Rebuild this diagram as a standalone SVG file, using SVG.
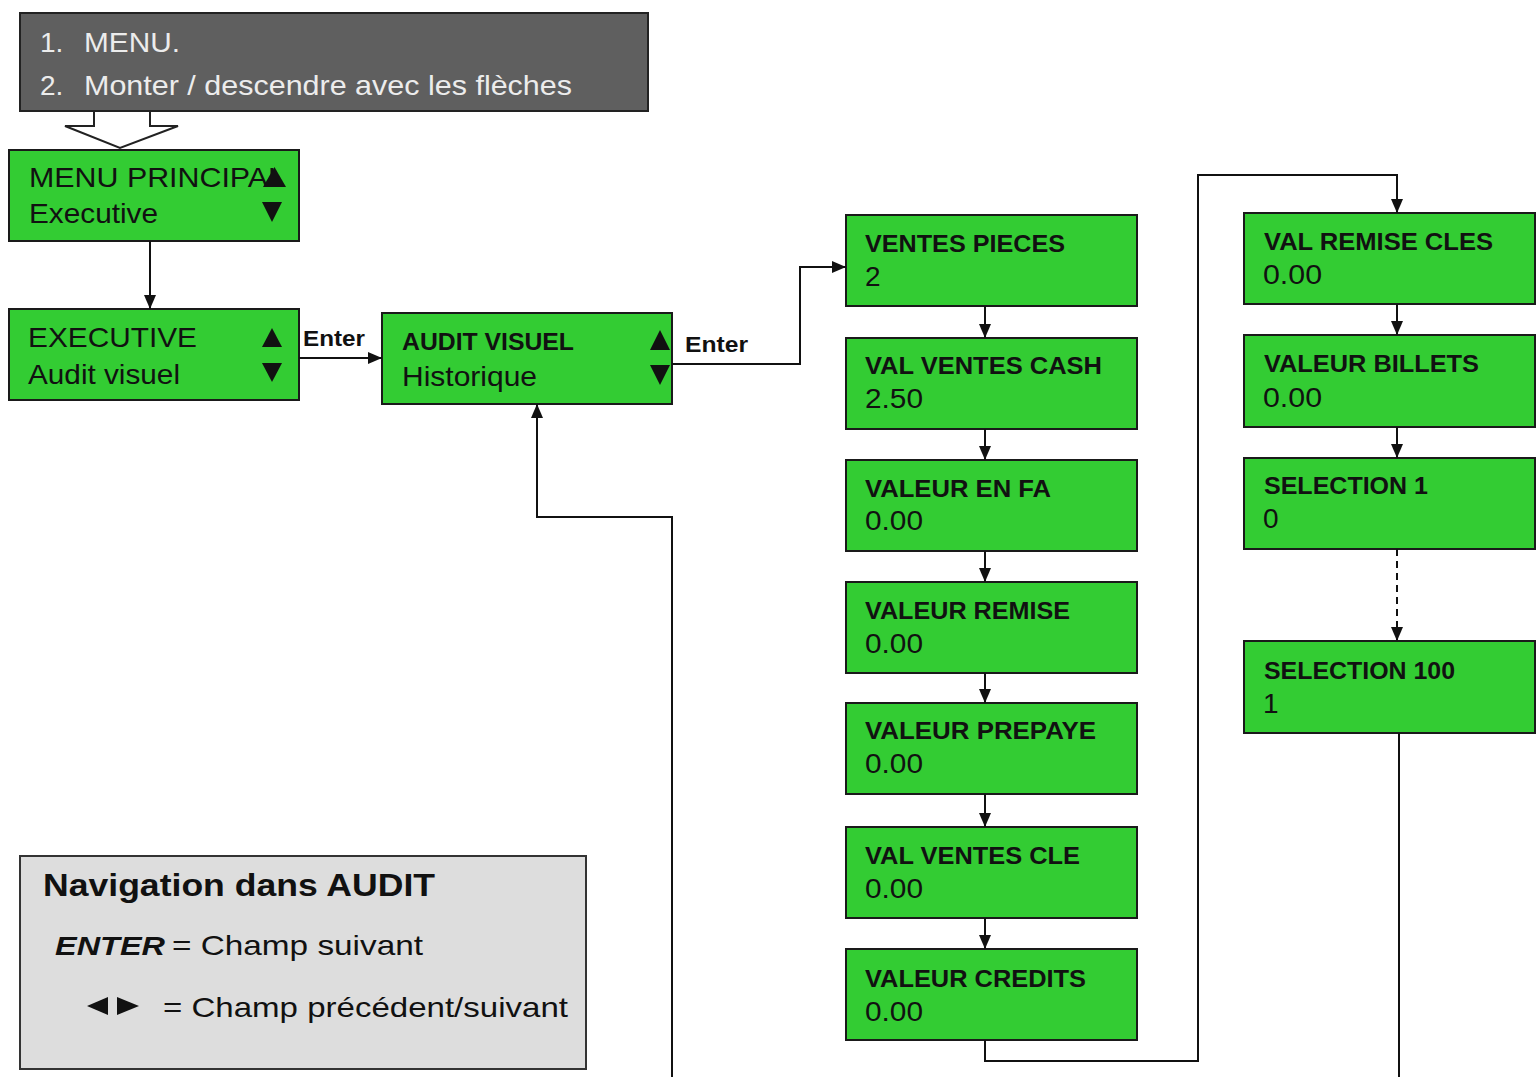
<svg xmlns="http://www.w3.org/2000/svg" width="1539" height="1077" viewBox="0 0 1539 1077">
<style>
.box{fill:#33cc33;stroke:#1a1a1a;stroke-width:2}
.t{font-family:"Liberation Sans",Arial,sans-serif;fill:#111}
.reg{font-size:28px}
.bold{font-size:24px;font-weight:bold}
.lt{font-family:"Liberation Sans",Arial,sans-serif;font-size:28px;fill:#ececec}
.con{fill:none;stroke:#111;stroke-width:2}
.tri{fill:#111}
</style>
<defs>
<marker id="ah" markerUnits="userSpaceOnUse" markerWidth="16" markerHeight="14" refX="14" refY="6" orient="auto" overflow="visible">
<path d="M0,0 L14,6 L0,12 z" fill="#111" stroke="none"/>
</marker>
</defs>
<rect width="1539" height="1077" fill="#ffffff"/>

<g id="header">
<rect x="20" y="13" width="628" height="98" fill="#5f5f5f" stroke="#222" stroke-width="2"/>
<text class="lt" x="40" y="52">1.</text>
<text class="lt" x="84" y="52" textLength="96" lengthAdjust="spacingAndGlyphs">MENU.</text>
<text class="lt" x="40" y="95">2.</text>
<text class="lt" x="84" y="95" textLength="488" lengthAdjust="spacingAndGlyphs">Monter / descendre avec les flèches</text>
<polygon points="94,111 94,126 65,126 120,148 178,126 150,126 150,111" fill="#ffffff" stroke="#222" stroke-width="2"/>
</g>

<g id="menu-principal">
<rect class="box" x="9" y="150" width="290" height="91"/>
<text class="t reg" x="29" y="187" textLength="256" lengthAdjust="spacingAndGlyphs">MENU PRINCIPAL</text>
<text class="t reg" x="29" y="223" textLength="129" lengthAdjust="spacingAndGlyphs">Executive</text>
<polygon class="tri" points="263,187 286,187 274.5,167"/>
<polygon class="tri" points="262,202 282,202 272,222"/>
</g>

<g id="executive">
<rect class="box" x="9" y="309" width="290" height="91"/>
<text class="t reg" x="28" y="347" textLength="169" lengthAdjust="spacingAndGlyphs">EXECUTIVE</text>
<text class="t reg" x="28" y="384" textLength="152" lengthAdjust="spacingAndGlyphs">Audit visuel</text>
<polygon class="tri" points="262,347 282,347 272,328"/>
<polygon class="tri" points="262,363 282,363 272,382"/>
</g>

<g id="audit-visuel">
<rect class="box" x="382" y="313" width="290" height="91"/>
<text class="t bold" x="402" y="350" textLength="172" lengthAdjust="spacingAndGlyphs">AUDIT VISUEL</text>
<text class="t reg" x="402" y="386" textLength="135" lengthAdjust="spacingAndGlyphs">Historique</text>
<polygon class="tri" points="650,350 670,350 660,330"/>
<polygon class="tri" points="650,365 670,365 660,385"/>
</g>

<g id="ventes-pieces">
<rect class="box" x="846" y="215" width="291" height="91"/>
<text class="t bold" x="865" y="252" textLength="200" lengthAdjust="spacingAndGlyphs">VENTES PIECES</text>
<text class="t reg" x="865" y="286">2</text>
</g>
<g id="val-ventes-cash">
<rect class="box" x="846" y="338" width="291" height="91"/>
<text class="t bold" x="865" y="374" textLength="237" lengthAdjust="spacingAndGlyphs">VAL VENTES CASH</text>
<text class="t reg" x="865" y="408" textLength="58" lengthAdjust="spacingAndGlyphs">2.50</text>
</g>
<g id="valeur-en-fa">
<rect class="box" x="846" y="460" width="291" height="91"/>
<text class="t bold" x="865" y="497" textLength="186" lengthAdjust="spacingAndGlyphs">VALEUR EN FA</text>
<text class="t reg" x="865" y="530" textLength="58" lengthAdjust="spacingAndGlyphs">0.00</text>
</g>
<g id="valeur-remise">
<rect class="box" x="846" y="582" width="291" height="91"/>
<text class="t bold" x="865" y="619" textLength="205" lengthAdjust="spacingAndGlyphs">VALEUR REMISE</text>
<text class="t reg" x="865" y="653" textLength="58" lengthAdjust="spacingAndGlyphs">0.00</text>
</g>
<g id="valeur-prepaye">
<rect class="box" x="846" y="703" width="291" height="91"/>
<text class="t bold" x="865" y="739" textLength="231" lengthAdjust="spacingAndGlyphs">VALEUR PREPAYE</text>
<text class="t reg" x="865" y="773" textLength="58" lengthAdjust="spacingAndGlyphs">0.00</text>
</g>
<g id="val-ventes-cle">
<rect class="box" x="846" y="827" width="291" height="91"/>
<text class="t bold" x="865" y="864" textLength="215" lengthAdjust="spacingAndGlyphs">VAL VENTES CLE</text>
<text class="t reg" x="865" y="898" textLength="58" lengthAdjust="spacingAndGlyphs">0.00</text>
</g>
<g id="valeur-credits">
<rect class="box" x="846" y="949" width="291" height="91"/>
<text class="t bold" x="865" y="987" textLength="221" lengthAdjust="spacingAndGlyphs">VALEUR CREDITS</text>
<text class="t reg" x="865" y="1021" textLength="58" lengthAdjust="spacingAndGlyphs">0.00</text>
</g>

<g id="val-remise-cles">
<rect class="box" x="1244" y="213" width="291" height="91"/>
<text class="t bold" x="1264" y="250" textLength="229" lengthAdjust="spacingAndGlyphs">VAL REMISE CLES</text>
<text class="t reg" x="1263" y="284" textLength="59" lengthAdjust="spacingAndGlyphs">0.00</text>
</g>
<g id="valeur-billets">
<rect class="box" x="1244" y="335" width="291" height="92"/>
<text class="t bold" x="1264" y="372" textLength="215" lengthAdjust="spacingAndGlyphs">VALEUR BILLETS</text>
<text class="t reg" x="1263" y="407" textLength="59" lengthAdjust="spacingAndGlyphs">0.00</text>
</g>
<g id="selection-1">
<rect class="box" x="1244" y="458" width="291" height="91"/>
<text class="t bold" x="1264" y="494" textLength="164" lengthAdjust="spacingAndGlyphs">SELECTION 1</text>
<text class="t reg" x="1263" y="528">0</text>
</g>
<g id="selection-100">
<rect class="box" x="1244" y="641" width="291" height="92"/>
<text class="t bold" x="1264" y="679" textLength="191" lengthAdjust="spacingAndGlyphs">SELECTION 100</text>
<text class="t reg" x="1263" y="713">1</text>
</g>

<g id="legend">
<rect x="20" y="856" width="566" height="213" fill="#dddddd" stroke="#333" stroke-width="2"/>
<text class="t" x="43" y="896" font-size="32" font-weight="bold" textLength="392" lengthAdjust="spacingAndGlyphs">Navigation dans AUDIT</text>
<text class="t" x="55" y="955" font-size="26" font-weight="bold" font-style="italic" textLength="110" lengthAdjust="spacingAndGlyphs">ENTER</text>
<text class="t" x="172" y="955" font-size="28" textLength="251" lengthAdjust="spacingAndGlyphs">= Champ suivant</text>
<polygon class="tri" points="108,997 108,1015 87,1006"/>
<polygon class="tri" points="117,997 117,1015 139,1006"/>
<text class="t" x="163" y="1017" font-size="28" textLength="405" lengthAdjust="spacingAndGlyphs">= Champ précédent/suivant</text>
</g>

<g id="connectors">
<path class="con" d="M150,241 V309" marker-end="url(#ah)"/>
<path class="con" d="M299,358 H382" marker-end="url(#ah)"/>
<path class="con" d="M672,364 H800 V267 H846" marker-end="url(#ah)"/>
<path class="con" d="M985,306 V338" marker-end="url(#ah)"/>
<path class="con" d="M985,429 V460" marker-end="url(#ah)"/>
<path class="con" d="M985,551 V582" marker-end="url(#ah)"/>
<path class="con" d="M985,673 V703" marker-end="url(#ah)"/>
<path class="con" d="M985,794 V827" marker-end="url(#ah)"/>
<path class="con" d="M985,918 V949" marker-end="url(#ah)"/>
<path class="con" d="M985,1040 V1061 H1198 V175 H1397 V213" marker-end="url(#ah)"/>
<path class="con" d="M1397,304 V335" marker-end="url(#ah)"/>
<path class="con" d="M1397,427 V458" marker-end="url(#ah)"/>
<path class="con" d="M1397,549 V641" stroke-dasharray="7,5" marker-end="url(#ah)"/>
<path class="con" d="M1399,733 V1077"/>
<path class="con" d="M672,1077 V517 H537 V404" marker-end="url(#ah)"/>
<text class="t" x="303" y="346" font-size="22" font-weight="bold" textLength="62" lengthAdjust="spacingAndGlyphs">Enter</text>
<text class="t" x="685" y="352" font-size="22" font-weight="bold" textLength="63" lengthAdjust="spacingAndGlyphs">Enter</text>
</g>
</svg>
